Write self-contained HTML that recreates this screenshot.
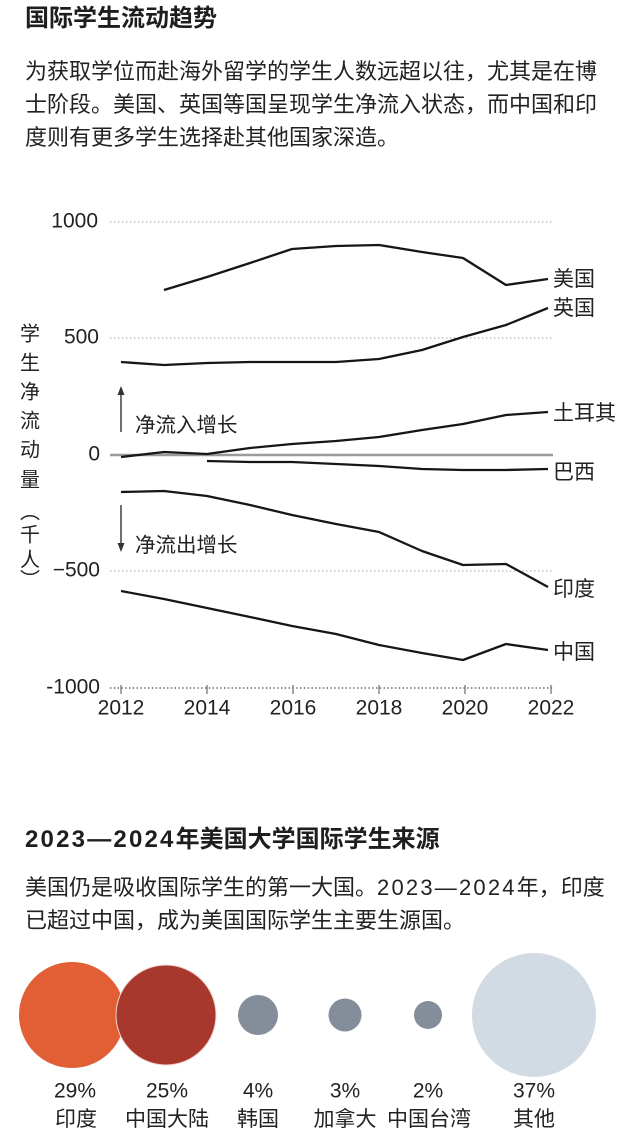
<!DOCTYPE html>
<html><head><meta charset="utf-8">
<style>
html,body{margin:0;padding:0;background:#fff;}
body{width:619px;height:1136px;position:relative;overflow:hidden;font-family:"Liberation Sans","Noto Sans CJK SC",sans-serif;color:#222;}
.t{position:absolute;left:25px;white-space:nowrap;}
.h{font-size:24px;font-weight:bold;line-height:30px;color:#1e1e1e;}
.p{font-size:22px;line-height:33px;color:#222;}
.d{letter-spacing:2.2px;}
svg{position:absolute;left:0;top:0;}
</style></head><body>
<div class="t h" style="top:4px;">国际学生流动趋势</div>
<div class="t p" style="top:55px;">为获取学位而赴海外留学的学生人数远超以往，尤其是在博<br>士阶段。美国、英国等国呈现学生净流入状态，而中国和印<br>度则有更多学生选择赴其他国家深造。</div>

<div class="t h" style="top:825px;"><span class="d">2023—2024</span>年美国大学国际学生来源</div>
<div class="t p" style="top:871px;">美国仍是吸收国际学生的第一大国。<span class="d">2023—2024</span>年，印度<br>已超过中国，成为美国国际学生主要生源国。</div>

<svg width="619" height="1136" viewBox="0 0 619 1136" font-family="Liberation Sans, Noto Sans CJK SC, sans-serif">
  <!-- gridlines -->
  <g stroke="#aaa" stroke-width="1.3" stroke-dasharray="1.3,2.7" fill="none">
    <line x1="110" y1="222" x2="553" y2="222"/>
    <line x1="110" y1="338" x2="553" y2="338"/>
    <line x1="110" y1="571" x2="553" y2="571"/>
  </g>
  <line x1="110" y1="688" x2="553" y2="688" stroke="#666" stroke-width="1.4" stroke-dasharray="1.4,2.4"/>
  <g stroke="#777" stroke-width="1.3">
    <line x1="121" y1="685" x2="121" y2="694"/>
    <line x1="207" y1="685" x2="207" y2="694"/>
    <line x1="293" y1="685" x2="293" y2="694"/>
    <line x1="379" y1="685" x2="379" y2="694"/>
    <line x1="465" y1="685" x2="465" y2="694"/>
    <line x1="551" y1="685" x2="551" y2="694"/>
  </g>
  <!-- zero line -->
  <line x1="110" y1="455" x2="553" y2="455" stroke="#9a9a9a" stroke-width="2.6"/>

  <!-- y tick labels -->
  <g font-size="21" fill="#222" text-anchor="end" dominant-baseline="central">
    <text x="98" y="221">1000</text>
    <text x="99" y="337">500</text>
    <text x="100" y="454">0</text>
    <text x="100" y="570">−500</text>
    <text x="100" y="687">-1000</text>
  </g>
  <!-- x labels -->
  <g font-size="21" fill="#222" text-anchor="middle" dominant-baseline="central">
    <text x="121" y="708">2012</text>
    <text x="207" y="708">2014</text>
    <text x="293" y="708">2016</text>
    <text x="379" y="708">2018</text>
    <text x="465" y="708">2020</text>
    <text x="551" y="708">2022</text>
  </g>

  <!-- y axis title -->
  <g font-size="20" fill="#222" text-anchor="middle" dominant-baseline="central" font-family="Noto Sans CJK SC, sans-serif">
    <text x="30" y="332">学</text>
    <text x="30" y="361">生</text>
    <text x="30" y="390">净</text>
    <text x="30" y="419">流</text>
    <text x="30" y="448">动</text>
    <text x="30" y="478">量</text>
    <text x="30" y="510">︵</text>
    <text x="30" y="533">千</text>
    <text x="30" y="558">人</text>
    <text x="30" y="578">︶</text>
  </g>

  <!-- annotations -->
  <g stroke="#333" stroke-width="1.4">
    <line x1="121" y1="432" x2="121" y2="392"/>
    <line x1="121" y1="505" x2="121" y2="546"/>
  </g>
  <polygon points="117.5,395 124.5,395 121,386" fill="#333"/>
  <polygon points="117.5,543 124.5,543 121,552" fill="#333"/>
  <g font-size="20.5" fill="#222" dominant-baseline="central" font-family="Noto Sans CJK SC, sans-serif">
    <text x="135" y="423">净流入增长</text>
    <text x="135" y="543">净流出增长</text>
  </g>

  <!-- series -->
  <g fill="none" stroke="#161616" stroke-width="2.3" stroke-linejoin="round" stroke-linecap="butt">
    <polyline points="164,290 207,277 250,263 292,249 336,246 379,245 422,252 463,258 506,285 548,279"/>
    <polyline points="121,362 164,365 207,363 250,362 292,362 336,362 379,359 422,350 463,337 506,325 548,308"/>
    <polyline points="121,457 164,452 207,454 250,448 292,444 336,441 379,437 422,430 463,424 506,415 548,412"/>
    <polyline points="207,461 250,462 292,462 336,464 379,466 422,469 463,470 506,470 548,469"/>
    <polyline points="121,492 164,491 207,496 250,505 292,515 336,524 379,532 422,551 463,565 506,564 548,587"/>
    <polyline points="121,591 164,599 207,608 250,617 292,626 336,634 379,645 422,653 463,660 506,644 548,650"/>
  </g>
  <g font-size="21" fill="#222" dominant-baseline="central" font-family="Noto Sans CJK SC, sans-serif">
    <text x="553" y="278">美国</text>
    <text x="553" y="307">英国</text>
    <text x="553" y="412">土耳其</text>
    <text x="553" y="471">巴西</text>
    <text x="553" y="588">印度</text>
    <text x="553" y="651">中国</text>
  </g>

  <!-- bubbles -->
  <circle cx="72" cy="1015" r="53" fill="#E25E35"/>
  <circle cx="166" cy="1015" r="50" fill="#A8372D" stroke="#f3d6cf" stroke-width="1"/>
  <circle cx="258" cy="1015" r="20" fill="#848E9A"/>
  <circle cx="345" cy="1015" r="16.5" fill="#848E9A"/>
  <circle cx="428" cy="1015" r="14" fill="#848E9A"/>
  <circle cx="534" cy="1015" r="62" fill="#D2DAE3"/>

  <g font-size="21" fill="#222" text-anchor="middle" dominant-baseline="central">
    <text x="75" y="1091">29%</text>
    <text x="167" y="1091">25%</text>
    <text x="258" y="1091">4%</text>
    <text x="345" y="1091">3%</text>
    <text x="428" y="1091">2%</text>
    <text x="534" y="1091">37%</text>
  </g>
  <g font-size="21" fill="#222" text-anchor="middle" dominant-baseline="central" font-family="Noto Sans CJK SC, sans-serif">
    <text x="76" y="1118">印度</text>
    <text x="167" y="1118">中国大陆</text>
    <text x="258" y="1118">韩国</text>
    <text x="345" y="1118">加拿大</text>
    <text x="429" y="1118">中国台湾</text>
    <text x="534" y="1118">其他</text>
  </g>
</svg>
</body></html>
